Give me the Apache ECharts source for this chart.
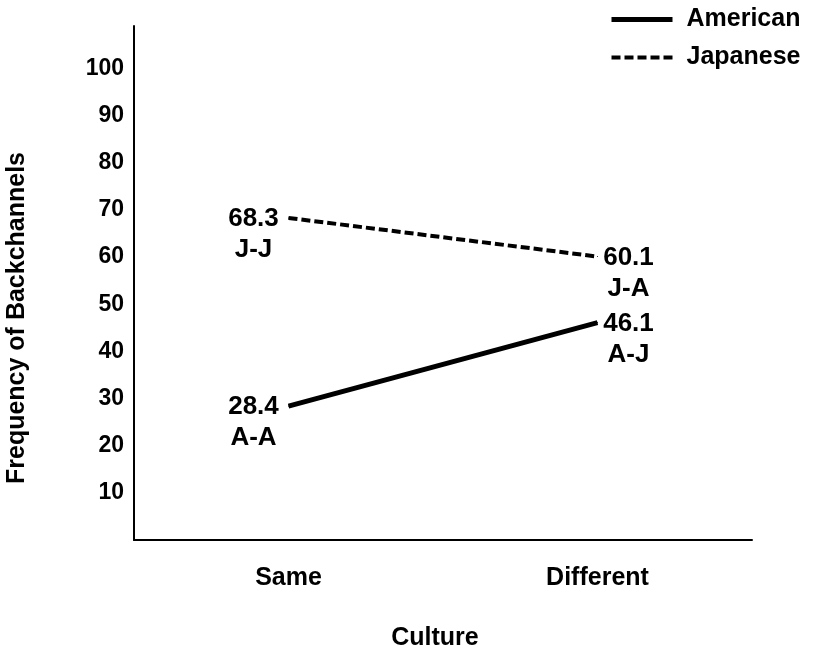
<!DOCTYPE html>
<html>
<head>
<meta charset="utf-8">
<script src="https://cdn.jsdelivr.net/npm/echarts@6/dist/echarts.min.js"></script>
<style>
  html, body { margin: 0; padding: 0; background: #fff; }
  #chart { width: 814px; height: 652px; }
</style>
</head>
<body>
<div id="chart"></div>
<script>
// ---- data ----
const categories = ['Same', 'Different'];
const seriesNames = ['American', 'Japanese'];
const americanValues = [28.4, 46.1];
const japaneseValues = [68.3, 60.1];
const americanPairs = ['A-A', 'A-J'];
const japanesePairs = ['J-J', 'J-A'];
const yTickLabels = [10, 20, 30, 40, 50, 60, 70, 80, 90, 100];
const xTitle = 'Culture';
const yTitle = 'Frequency of Backchannels';

// ---- styling helpers ----
const font = '"Liberation Sans", Arial, Helvetica, sans-serif';
const labelOffsets = [[-35, 16], [31, 17]];
const solidLine = { color: '#000', width: 5, type: 'solid' };
const dashedLine = { color: '#000', width: 4, type: [9, 4] };

function buildData(values, pairs) {
  return values.map((v, i) => ({
    value: v,
    label: {
      show: true,
      position: 'inside',
      align: 'center',
      verticalAlign: 'middle',
      offset: labelOffsets[i],
      formatter: v.toFixed(1) + '\n' + pairs[i],
      fontFamily: font,
      fontWeight: 'bold',
      fontSize: 26,
      lineHeight: 31,
      color: '#000'
    }
  }));
}

const chart = echarts.init(document.getElementById('chart'), null, { renderer: 'canvas' });
chart.setOption({
  animation: false,
  backgroundColor: '#fff',
  grid: { left: 134, top: 26, right: 62, bottom: 112, containLabel: false, outerBoundsMode: 'none' },
  legend: {
    orient: 'vertical',
    left: 609,
    top: 7,
    padding: 0,
    itemWidth: 61,
    itemHeight: 14,
    itemGap: 13,
    data: [
      { name: seriesNames[0], lineStyle: solidLine },
      { name: seriesNames[1], lineStyle: dashedLine }
    ],
    itemStyle: { color: 'rgba(0,0,0,0)', borderWidth: 0, opacity: 0 },
    textStyle: { fontFamily: font, fontWeight: 'bold', fontSize: 25, color: '#000', padding: [0, 0, 0, 9] }
  },
  xAxis: {
    type: 'category',
    data: categories,
    boundaryGap: true,
    name: xTitle,
    nameLocation: 'middle',
    nameGap: 86,
    nameTextStyle: { fontFamily: font, fontWeight: 'bold', fontSize: 25, color: '#000', padding: [0, 16, 0, 0] },
    axisLine: { lineStyle: { color: '#000', width: 2 } },
    axisTick: { show: false },
    axisLabel: { fontFamily: font, fontWeight: 'bold', fontSize: 25, color: '#000', margin: 26 },
    splitLine: { show: false }
  },
  yAxis: {
    type: 'value',
    min: 0,
    max: 109,
    interval: 10,
    axisLine: { show: true, lineStyle: { color: '#000', width: 2 } },
    axisTick: { show: false },
    splitLine: { show: false },
    axisLabel: {
      fontFamily: font,
      fontWeight: 'bold',
      fontSize: 23,
      color: '#000',
      margin: 10,
      formatter: v => (yTickLabels.indexOf(v) >= 0 ? String(v) : '')
    }
  },
  graphic: [{
    type: 'text',
    x: 17,
    y: 318,
    rotation: Math.PI / 2,
    style: {
      text: yTitle,
      fontFamily: font,
      fontWeight: 'bold',
      fontSize: 25,
      fill: '#000',
      align: 'center',
      verticalAlign: 'middle'
    }
  }],
  series: [
    {
      name: seriesNames[0],
      type: 'line',
      data: buildData(americanValues, americanPairs),
      symbol: 'circle',
      symbolSize: 1,
      itemStyle: { color: '#000' },
      lineStyle: solidLine
    },
    {
      name: seriesNames[1],
      type: 'line',
      data: buildData(japaneseValues, japanesePairs),
      symbol: 'circle',
      symbolSize: 1,
      itemStyle: { color: '#000' },
      lineStyle: dashedLine
    }
  ]
});
</script>
</body>
</html>
